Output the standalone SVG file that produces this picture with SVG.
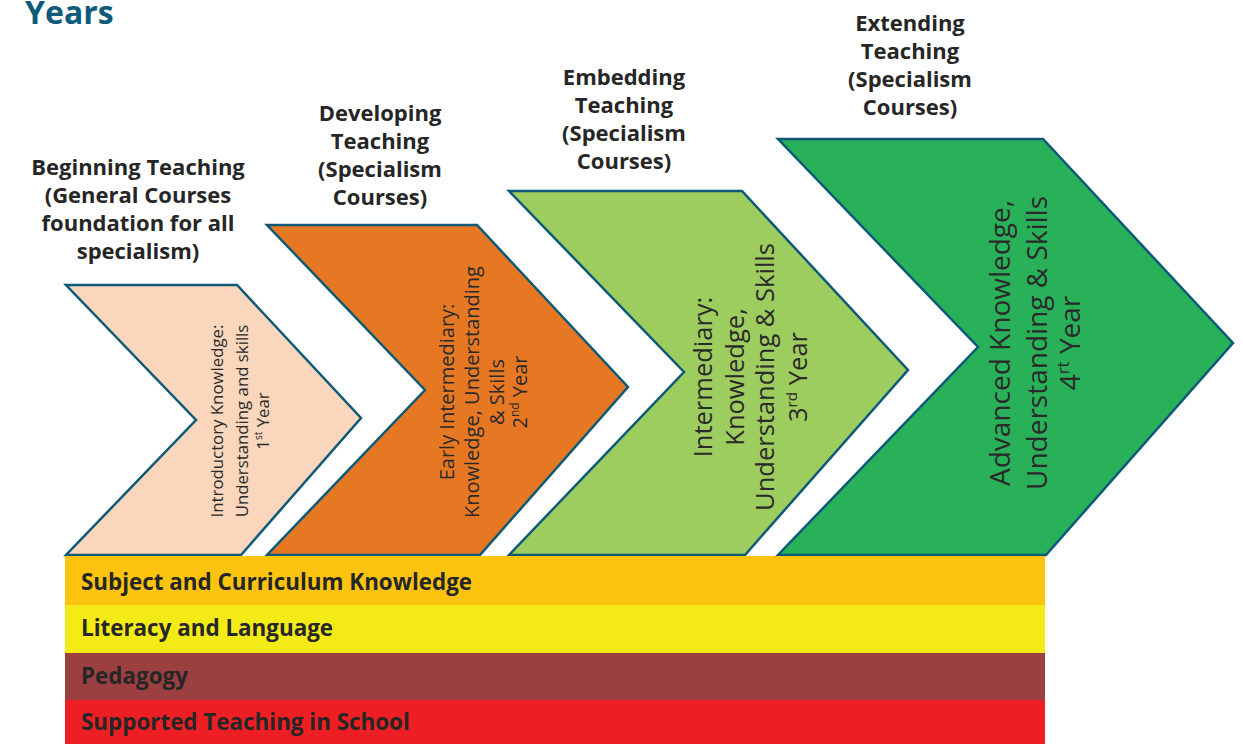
<svg xmlns="http://www.w3.org/2000/svg" width="1243" height="744" viewBox="0 0 1243 744">
<style>
.chev{stroke:#0d5a78;stroke-width:2.5;stroke-linejoin:miter}
.head{font-family:"Open Sans","Noto Sans",sans-serif;font-weight:bold;font-size:22px;fill:#262626;text-anchor:middle}
.lab{font-family:"Open Sans","Noto Sans",sans-serif;fill:#2a2a2a;text-anchor:middle}
.bar{font-family:"Open Sans","Noto Sans",sans-serif;font-weight:bold;font-size:22.4px;fill:#262626}
.sup{font-size:60%}
</style>
<rect width="1243" height="744" fill="#ffffff"/>
<text x="25" y="24" font-family="'Open Sans','Noto Sans',sans-serif" font-weight="bold" font-size="32" fill="#0d5a7a">Years</text>

<g id="heading1" class="head">
<text x="138" y="175">Beginning Teaching</text>
<text x="138" y="203">(General Courses</text>
<text x="138" y="231">foundation for all</text>
<text x="138" y="259">specialism)</text>
</g>
<g id="heading2" class="head">
<text x="380" y="121">Developing</text>
<text x="380" y="149">Teaching</text>
<text x="380" y="177">(Specialism</text>
<text x="380" y="205">Courses)</text>
</g>
<g id="heading3" class="head">
<text x="624" y="85">Embedding</text>
<text x="624" y="113">Teaching</text>
<text x="624" y="141">(Specialism</text>
<text x="624" y="169">Courses)</text>
</g>
<g id="heading4" class="head">
<text x="910" y="31">Extending</text>
<text x="910" y="59">Teaching</text>
<text x="910" y="87">(Specialism</text>
<text x="910" y="115">Courses)</text>
</g>

<g id="year1">
<polygon class="chev" fill="#f9d6bc" points="66,285 237,285 361,418 241,555 66,555 196,420"/>
<g class="lab" font-size="16.8" transform="translate(240,421) rotate(-90)">
<text x="0" y="-17">Introductory Knowledge:</text>
<text x="0" y="8">Understanding and skills</text>
<text x="0" y="29">1<tspan class="sup" baseline-shift="super">st</tspan> Year</text>
</g>
</g>

<g id="year2">
<polygon class="chev" fill="#e67824" points="267,225 477,225 628,387 480,555 267,555 425,390"/>
<g class="lab" font-size="20" transform="translate(484,392) rotate(-90)">
<text x="0" y="-30">Early Intermediary:</text>
<text x="0" y="-5">Knowledge, Understanding</text>
<text x="0" y="20">&amp; Skills</text>
<text x="0" y="43">2<tspan class="sup" baseline-shift="super">nd</tspan> Year</text>
</g>
</g>

<g id="year3">
<polygon class="chev" fill="#9dcd5e" points="509,191 742,191 908,370 745,555 509,555 684,372"/>
<g class="lab" font-size="25.5" transform="translate(750,377) rotate(-90)">
<text x="0" y="-38">Intermediary:</text>
<text x="0" y="-6">Knowledge,</text>
<text x="0" y="24">Understanding &amp; Skills</text>
<text x="0" y="57">3<tspan class="sup" baseline-shift="super">rd</tspan> Year</text>
</g>
</g>

<g id="year4">
<polygon class="chev" fill="#29b15a" points="778,139 1043,139 1233,343 1046,555 778,555 978,347"/>
<g class="lab" font-size="28" transform="translate(1035,343) rotate(-90)">
<text x="0" y="-25">Advanced Knowledge,</text>
<text x="0" y="12">Understanding &amp; Skills</text>
<text x="0" y="45">4<tspan class="sup" baseline-shift="super">rt</tspan> Year</text>
</g>
</g>

<g id="bar1"><rect x="65" y="556" width="980" height="49" fill="#fdc40f"/><text class="bar" x="81" y="590">Subject and Curriculum Knowledge</text></g>
<g id="bar2"><rect x="65" y="605" width="980" height="48" fill="#f3ea16"/><text class="bar" x="81" y="636">Literacy and Language</text></g>
<g id="bar3"><rect x="65" y="653" width="980" height="47" fill="#9b3f40"/><text class="bar" x="81" y="684">Pedagogy</text></g>
<g id="bar4"><rect x="65" y="700" width="980" height="44" fill="#ed1f24"/><text class="bar" x="81" y="730">Supported Teaching in School</text></g>

<g id="connectors"></g>
</svg>
